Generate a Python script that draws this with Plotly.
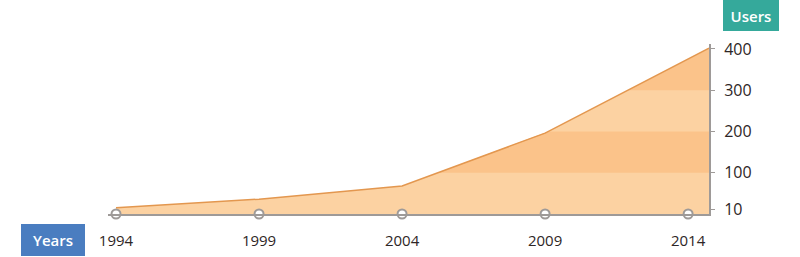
import plotly.graph_objects as go

years = [1994, 1999, 2004, 2009, 2014.73]
users = [15, 36, 68, 196, 402]
tick_years = [1994, 1999, 2004, 2009, 2014]
tick_labels = ["1994", "1999", "2004", "2009", "2014"]
y_ticks = [10, 100, 200, 300, 400]
dark_bands = [(100, 200), (300, 400)]

LIGHT = "#FCD2A2"
DARK = "#FBC38A"
LINE = "#E3974F"
AXIS = "#9E9A98"
TEXT = "#2E2626"
FONT = "Open Sans"


def interp(x0, y0, x1, y1, yv):
    return x0 + (yv - y0) * (x1 - x0) / (y1 - y0)


def band_polygon(xs, ys, lo, hi):
    pts = []
    for i in range(len(xs)):
        if i > 0:
            x0, y0, x1, y1 = xs[i - 1], ys[i - 1], xs[i], ys[i]
            for lvl in (lo, hi):
                if (y0 - lvl) * (y1 - lvl) < 0:
                    pts.append((interp(x0, y0, x1, y1, lvl), lvl))
        pts.append((xs[i], ys[i]))
    pts.sort(key=lambda p: p[0])
    top = [(x, min(max(y, lo), hi)) for x, y in pts if y >= lo]
    if not top:
        return [], []
    px = [p[0] for p in top] + [top[-1][0], top[0][0]]
    py = [p[1] for p in top] + [lo, lo]
    return px, py


fig = go.Figure()
fig.add_trace(go.Scatter(x=years, y=users, mode="lines", fill="tozeroy",
                         fillcolor=LIGHT, line=dict(width=0), hoverinfo="skip"))
for lo, hi in dark_bands:
    bx, by = band_polygon(years, users, lo, hi)
    fig.add_trace(go.Scatter(x=bx, y=by, mode="lines", fill="toself",
                             fillcolor=DARK, line=dict(width=0), hoverinfo="skip"))
fig.add_trace(go.Scatter(x=years, y=users, mode="lines",
                         line=dict(color=LINE, width=1.5)))
fig.add_trace(go.Scatter(x=tick_years, y=[0] * len(tick_years), mode="markers",
                         marker=dict(symbol="circle", size=9, color="white",
                                     line=dict(color=AXIS, width=2)),
                         cliponaxis=False))

fig.update_layout(
    width=800, height=257,
    margin=dict(l=108, r=91, t=44, b=43, autoexpand=False),
    paper_bgcolor="white", plot_bgcolor="white",
    showlegend=False,
    font=dict(family=FONT, size=15, color=TEXT),
    xaxis=dict(range=[1993.72, 2014.73], tickvals=tick_years, ticktext=tick_labels,
               showgrid=False, zeroline=False, showline=True, linecolor=AXIS,
               linewidth=2, ticks="", ticklabelstandoff=12, automargin=False,
               tickfont=dict(size=15), fixedrange=True),
    yaxis=dict(range=[0, 412], side="right", tickvals=y_ticks,
               showgrid=False, zeroline=False, showline=True, linecolor=AXIS,
               linewidth=2, ticks="outside", ticklen=4, tickcolor=AXIS,
               tickwidth=1, ticklabelstandoff=6, automargin=False,
               tickfont=dict(size=16), fixedrange=True),
    annotations=[
        dict(text="Users", xref="paper", yref="paper", x=(751 - 108) / 601,
             y=(214 - 15.5) / 170, xanchor="center", yanchor="middle",
             showarrow=False, bgcolor="#35A99B", borderwidth=0, borderpad=3,
             width=50, height=25,
             font=dict(color="white", size=15, family=FONT, weight=600)),
        dict(text="Years", xref="paper", yref="paper", x=(53 - 108) / 601,
             y=(214 - 240) / 170, xanchor="center", yanchor="middle",
             showarrow=False, bgcolor="#4A7DC0", borderwidth=0, borderpad=3,
             width=58, height=26,
             font=dict(color="white", size=15, family=FONT, weight=600)),
    ],
)

fig.write_html("out.html")
